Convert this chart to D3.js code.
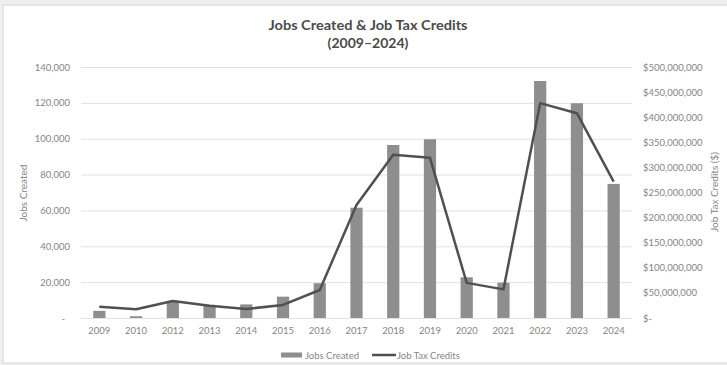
<!DOCTYPE html>
<meta charset="utf-8">
<style>
    body { margin: 0; background: #efefef; }
    text { font-family: Lato, "Open Sans", sans-serif; fill: #858585; }
    .grid line { stroke: #e2e2e2; stroke-width: 1; }
    .bar { fill: #8e8e8e; }
    .credits { fill: none; stroke: #505050; stroke-width: 2.5; stroke-linejoin: round; }
    .title { font-family: Lato, sans-serif; font-weight: bold; fill: #4a4a4a; font-size: 14px; }
</style>
<svg width="727" height="365"></svg>
<script src="https://d3js.org/d3.v7.min.js"></script>
<script>

var years = ["2009", "2010", "2012", "2013", "2014", "2015", "2016", "2017",
             "2018", "2019", "2020", "2021", "2022", "2023", "2024"];
var jobsCreated = [4000, 1000, 9500, 7300, 7600, 11900, 19400, 61500,
                   96500, 99700, 22700, 19700, 132200, 119800, 74800];
var jobTaxCredits = [22500000, 17300000, 33900000, 24500000, 18000000, 26000000, 55800000, 225000000,
                     325000000, 319000000, 70000000, 57000000, 428000000, 408000000, 271500000];
var leftTicks = [0, 20000, 40000, 60000, 80000, 100000, 120000, 140000];
var rightTicks = [0, 50000000, 100000000, 150000000, 200000000, 250000000, 300000000, 350000000, 400000000, 450000000, 500000000];

var svg = d3.select("svg");

// chart frame
svg.append("rect")
    .attr("x", 3).attr("y", 5)
    .attr("width", 730).attr("height", 358)
    .attr("fill", "#fff")
    .attr("stroke", "#d6d6d6");

var margin = {top: 67, left: 81},
    width = 551,
    height = 251;

var x = d3.scaleBand().domain(years).range([0, width]).paddingInner(0.667).paddingOuter(0.333),
    yL = d3.scaleLinear().domain([0, 140000]).range([height, 0]),
    yR = d3.scaleLinear().domain([0, 500000000]).range([height, 0]);

var g = svg.append("g")
    .attr("transform", "translate(" + margin.left + "," + margin.top + ")");

// gridlines
g.append("g").attr("class", "grid")
    .selectAll("line").data(leftTicks).enter().append("line")
    .attr("x1", 0).attr("x2", width)
    .attr("y1", function(d) { return yL(d) + 0.5; })
    .attr("y2", function(d) { return yL(d) + 0.5; });

// left axis
var fmt = d3.format(",");
var axL = g.append("g")
    .call(d3.axisLeft(yL).tickValues(leftTicks).tickSize(0).tickPadding(11)
        .tickFormat(function(d) { return d === 0 ? "-" : fmt(d); }));
axL.select(".domain").remove();
axL.selectAll("text").style("font-size", "9.5px").style("font-family", "Lato, sans-serif").attr("fill", "#858585");
axL.selectAll(".tick").filter(function(d) { return d === 0; }).select("text").attr("dx", -5);

// right axis
var axR = g.append("g")
    .attr("transform", "translate(" + width + ",0)")
    .call(d3.axisRight(yR).tickValues(rightTicks).tickSize(0).tickPadding(11)
        .tickFormat(function(d) { return d === 0 ? "$-" : "$" + fmt(d); }));
axR.select(".domain").remove();
axR.selectAll("text").style("font-size", "9.5px").style("font-family", "Lato, sans-serif").attr("fill", "#858585");

// x axis
var axX = g.append("g")
    .attr("transform", "translate(0," + height + ")")
    .call(d3.axisBottom(x).tickSize(0).tickPadding(9));
axX.select(".domain").remove();
axX.selectAll("text").style("font-size", "9.5px").style("font-family", "Lato, sans-serif").attr("fill", "#858585");

// bars
g.selectAll(".bar")
    .data(jobsCreated)
    .enter().append("rect")
    .attr("class", "bar")
    .attr("x", function(d, i) { return x(years[i]); })
    .attr("y", function(d) { return yL(d); })
    .attr("width", x.bandwidth())
    .attr("height", function(d) { return height - yL(d); });

// line
var line = d3.line()
    .x(function(d, i) { return x(years[i]) + x.bandwidth() / 2; })
    .y(function(d) { return yR(d); });

g.append("path")
    .datum(jobTaxCredits)
    .attr("class", "credits")
    .attr("d", line);

// titles
svg.append("text").attr("class", "title")
    .attr("x", 368).attr("y", 29.5).attr("text-anchor", "middle")
    .attr("textLength", 199).attr("lengthAdjust", "spacingAndGlyphs")
    .text("Jobs Created & Job Tax Credits");
svg.append("text").attr("class", "title")
    .attr("x", 368).attr("y", 48).attr("text-anchor", "middle")
    .text("(2009–2024)");

svg.append("text")
    .attr("transform", "translate(27,193) rotate(-90)")
    .attr("text-anchor", "middle")
    .style("font-size", "10px")
    .text("Jobs Created");
svg.append("text")
    .attr("transform", "translate(718,192) rotate(-90)")
    .attr("text-anchor", "middle")
    .style("font-size", "10px")
    .text("Job Tax Credits ($)");

// legend
var legend = svg.append("g").attr("transform", "translate(0,355)");
legend.append("rect").attr("x", 281).attr("y", -2.5).attr("width", 21).attr("height", 5).attr("fill", "#8e8e8e");
legend.append("text").attr("x", 305).attr("y", 3.5).style("font-size", "9.5px").text("Jobs Created");
legend.append("line").attr("x1", 372).attr("x2", 396).attr("y1", 0).attr("y2", 0)
    .attr("stroke", "#505050").attr("stroke-width", 2.5);
legend.append("text").attr("x", 397).attr("y", 3.5).style("font-size", "9.5px").text("Job Tax Credits");

</script>
